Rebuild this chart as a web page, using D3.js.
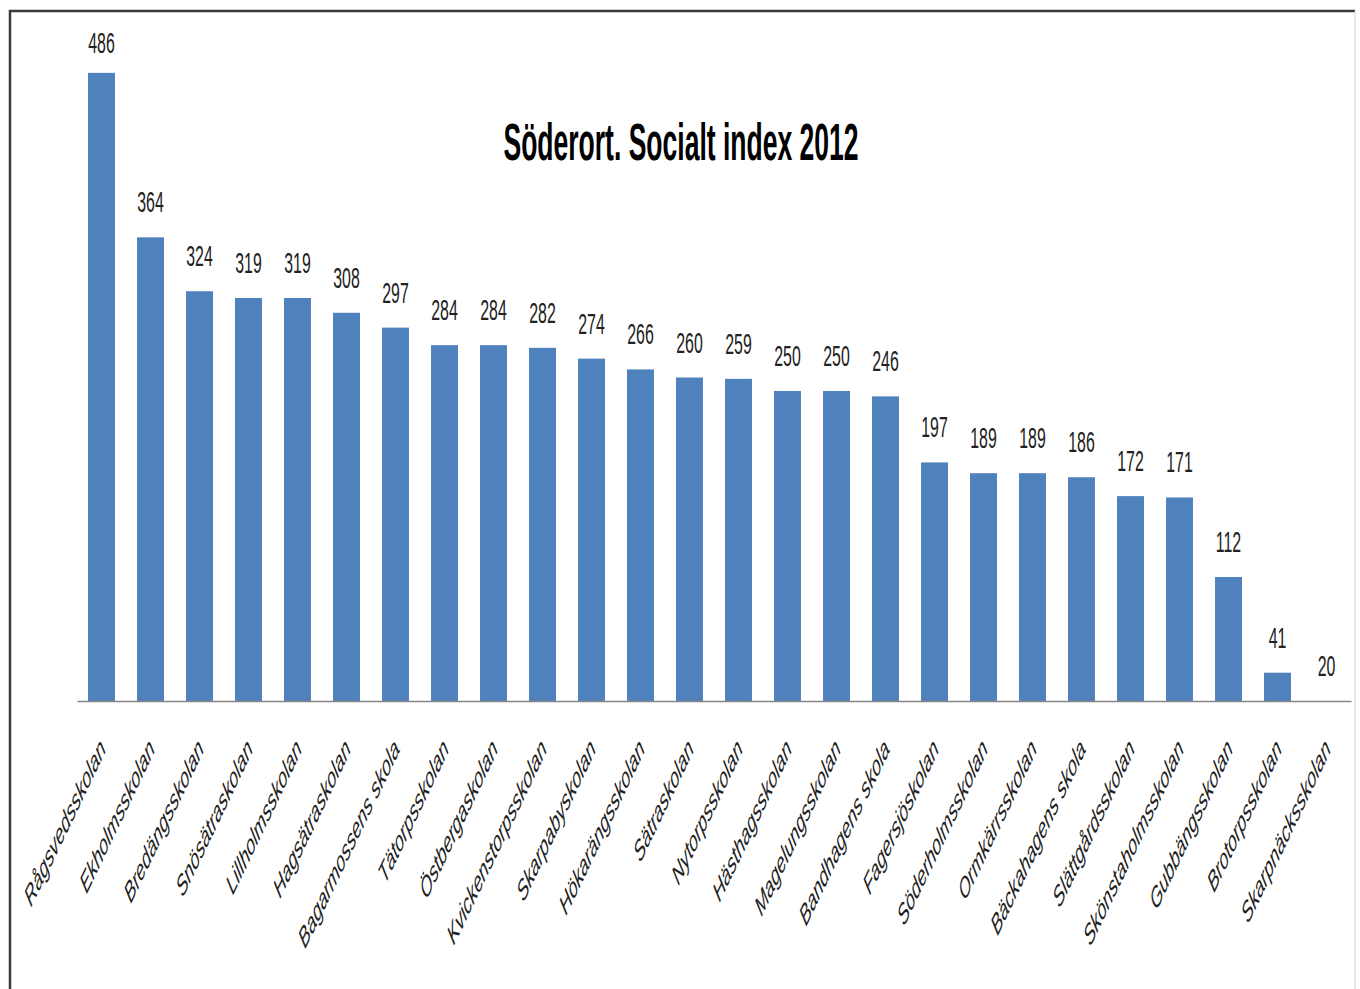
<!DOCTYPE html>
<html>
<head>
<meta charset="utf-8">
<script src="https://cdn.jsdelivr.net/npm/d3@7"></script>
<style>
    body { margin: 0; background: #fff; }
    svg { display: block; }
</style>
</head>
<body>
<div id="chart"></div>
<script>
const width = 1360;
const height = 989;

// data
const schools = [
    "Rågsvedsskolan", "Ekholmsskolan", "Bredängsskolan", "Snösätraskolan", "Lillholmsskolan",
    "Hagsätraskolan", "Bagarmossens skola", "Tätorpsskolan", "Östbergaskolan", "Kvickenstorpsskolan",
    "Skarpabyskolan", "Hökarängsskolan", "Sätraskolan", "Nytorpsskolan", "Hästhagsskolan",
    "Magelungsskolan", "Bandhagens skola", "Fagersjöskolan", "Söderholmsskolan", "Ormkärrsskolan",
    "Bäckahagens skola", "Slättgårdsskolan", "Skönstaholmsskolan", "Gubbängsskolan", "Brotorpsskolan",
    "Skarpnäcksskolan"
];
const indexValues = [
    486, 364, 324, 319, 319, 308, 297, 284, 284, 282, 274, 266, 260,
    259, 250, 250, 246, 197, 189, 189, 186, 172, 171, 112, 41, 20
];
const yDomain = [20, 500];
const title = "Söderort. Socialt index 2012";

const data = schools.map((name, i) => ({ name: name, value: indexValues[i] }));

const svg = d3.select("#chart")
    .append("svg")
    .attr("width", width)
    .attr("height", height)
    .attr("viewBox", [0, 0, width, height]);

// the source picture is squeezed horizontally, so is all the text
const squeeze = 0.53;

const x = d3.scaleBand()
    .domain(schools)
    .range([77, 1351])
    .paddingInner(0.45)
    .paddingOuter(0.225);

const y = d3.scaleLinear(yDomain, [701, 54]);

// frame
svg.append("path")
    .attr("d", `M10,${height} V11 H1355`)
    .attr("fill", "none")
    .attr("stroke", "#3a3a3a")
    .attr("stroke-width", 2.5);
svg.append("line")
    .attr("x1", 1355).attr("x2", 1355)
    .attr("y1", 11).attr("y2", height)
    .attr("stroke", "#d0d0d0");

// bars
svg.append("g")
    .selectAll("rect")
    .data(data)
    .join("rect")
    .attr("x", d => x(d.name))
    .attr("y", d => y(d.value))
    .attr("width", x.bandwidth())
    .attr("height", d => y(yDomain[0]) - y(d.value))
    .attr("fill", "#4f81bd");

// value labels (kept inside the chart area at the top)
svg.append("g")
    .selectAll("text")
    .data(data)
    .join("text")
    .attr("transform", d => `translate(${x(d.name) + x.bandwidth() / 2},${Math.max(y(d.value) - 25, 53)}) scale(${squeeze},1)`)
    .attr("text-anchor", "middle")
    .attr("font-family", "Liberation Sans, Arial, sans-serif")
    .attr("font-size", 30)
    .attr("fill", "#222")
    .text(d => d.value);

// x axis
const xAxis = svg.append("g")
    .attr("transform", `translate(0,${y(yDomain[0])})`)
    .call(d3.axisBottom(x).tickSize(0).tickSizeOuter(0));

xAxis.select(".domain")
    .attr("stroke", "#868686")
    .attr("stroke-width", 1.5);

xAxis.selectAll(".tick text")
    .attr("transform", `translate(5,49) scale(${squeeze},1) rotate(-48)`)
    .attr("y", 0)
    .attr("dy", 0)
    .attr("text-anchor", "end")
    .attr("font-family", "Liberation Sans, Arial, sans-serif")
    .attr("font-style", "italic")
    .attr("font-size", 29)
    .attr("fill", "#222");

// title
svg.append("text")
    .attr("transform", `translate(681,160) scale(0.51,1)`)
    .attr("text-anchor", "middle")
    .attr("font-family", "Liberation Sans, Arial, sans-serif")
    .attr("font-weight", "bold")
    .attr("font-size", 52)
    .attr("fill", "#000")
    .text(title);
</script>
</body>
</html>
